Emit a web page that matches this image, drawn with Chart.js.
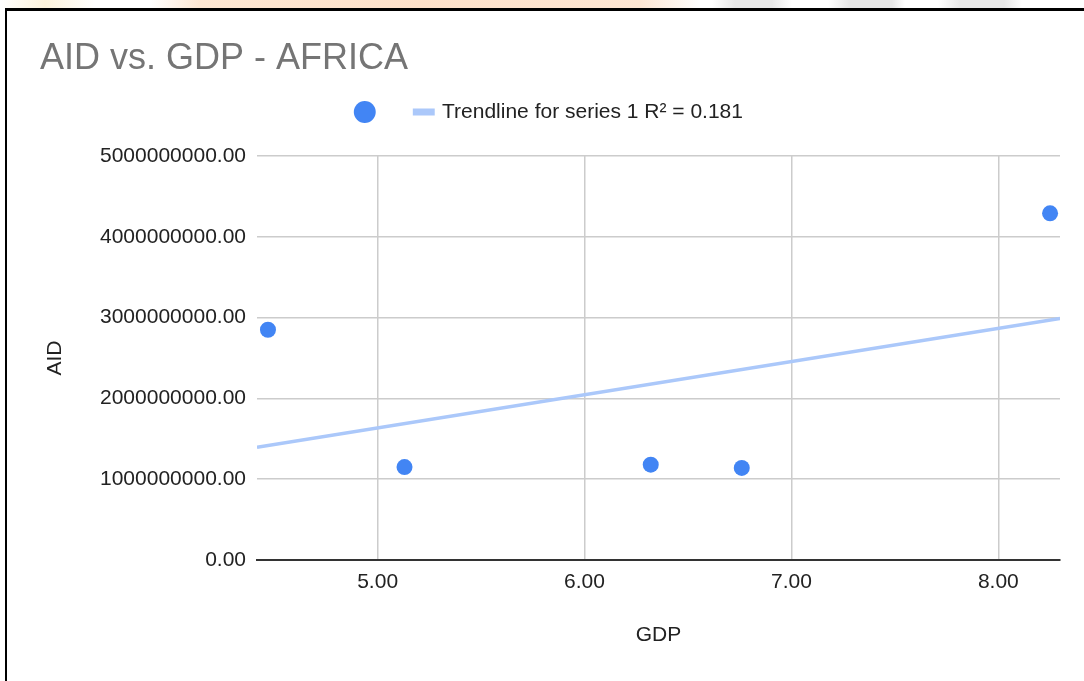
<!DOCTYPE html>
<html>
<head>
<meta charset="utf-8">
<title>AID vs. GDP - AFRICA</title>
<script src="https://cdn.jsdelivr.net/npm/chart.js@4.4.1/dist/chart.umd.min.js"></script>
<style>
  html, body { margin: 0; padding: 0; width: 1084px; height: 681px; overflow: hidden; background: #fff; }
  /* soft page backdrop peeking out above the framed card */
  #backdrop {
    position: absolute; left: 0; top: 0; width: 1084px; height: 8px;
    background: linear-gradient(to right,
      #fff 0px, #fdf3dc 45px, #fff 95px, #fff 150px, #fde7d3 200px, #fde1ca 420px,
      #fde6d3 640px, #fff 700px, #fff 712px, #e7e7e7 735px, #e7e7e7 772px, #fff 792px,
      #fff 828px, #e6e6e6 850px, #e6e6e6 892px, #fff 905px, #fff 938px, #e8e8e8 960px,
      #e8e8e8 1004px, #fff 1022px, #fff 1084px);
  }
  #frame {
    position: absolute; left: 5px; top: 8px; width: 1200px; height: 800px;
    border-left: 2.5px solid #000; border-top: 3px solid #000; box-sizing: border-box;
  }
  #chart { position: absolute; left: 0; top: 0; }
</style>
</head>
<body>
<div id="backdrop"></div>
<div id="frame"></div>
<canvas id="chart" width="1084" height="681"></canvas>
<script>
// Observations: GDP growth (x) against aid received (y)
const gdp = [4.47, 5.13, 6.32, 6.76, 8.25];
const aid = [2850000000, 1150000000, 1180000000, 1140000000, 4290000000];

// Axis ranges and tick values
const gdpRange = [4.417, 8.298];
const gdpTicks = [5, 6, 7, 8];
const aidRange = [0, 5000000000];
const aidStep = 1000000000;

const seriesLabel = '';
const trendLabel = 'Trendline for series 1 R\u00B2 = 0.181';

// Ordinary least-squares fit of aid on GDP
const n = gdp.length;
const meanX = gdp.reduce((a, b) => a + b, 0) / n;
const meanY = aid.reduce((a, b) => a + b, 0) / n;
let sxy = 0, sxx = 0;
for (let i = 0; i < n; i++) {
  sxy += (gdp[i] - meanX) * (aid[i] - meanY);
  sxx += (gdp[i] - meanX) * (gdp[i] - meanX);
}
const slope = sxy / sxx;
const intercept = meanY - slope * meanX;
const trendPoints = gdpRange.map(x => ({ x: x, y: intercept + slope * x }));

const BLUE = '#4285f4';
const TREND = '#abc8fa';
const TEXT = '#222222';
const GRID = '#cccccc';
const FONT_SIZE = 21;

// Empty layout box that leaves breathing room between the legend and the plot
const LEGEND_GAP = 23.5;
const legendGap = {
  id: 'legendGap',
  beforeInit(chart) {
    Chart.layouts.addBox(chart, {
      position: 'top',
      weight: 500,
      fullSize: true,
      options: {},
      left: 0, top: 0, right: 0, bottom: 0, width: 0, height: 0,
      isHorizontal() { return true; },
      update(maxWidth) { this.width = maxWidth; this.height = LEGEND_GAP; },
      draw() {}
    });
  }
};

Chart.defaults.font.family = '"Liberation Sans", Arial, sans-serif';
Chart.defaults.font.size = FONT_SIZE;
Chart.defaults.color = TEXT;

new Chart(document.getElementById('chart'), {
  type: 'scatter',
  plugins: [legendGap],
  data: {
    datasets: [
      {
        label: seriesLabel,
        data: gdp.map((x, i) => ({ x: x, y: aid[i] })),
        backgroundColor: BLUE,
        borderWidth: 0,
        pointRadius: 8,
        pointHoverRadius: 8,
        pointStyle: 'circle',
        order: 0
      },
      {
        type: 'line',
        label: trendLabel,
        data: trendPoints,
        borderColor: TREND,
        backgroundColor: TREND,
        borderWidth: 3.5,
        pointRadius: 0,
        pointHoverRadius: 0,
        pointStyle: 'line',
        fill: false,
        order: 1
      }
    ]
  },
  options: {
    responsive: false,
    animation: false,
    devicePixelRatio: 1,
    events: [],
    layout: { padding: { left: 40, right: 24, top: 0, bottom: 0 } },
    plugins: {
      tooltip: { enabled: false },
      title: {
        display: true,
        text: 'AID vs. GDP - AFRICA',
        align: 'start',
        color: '#757575',
        font: { size: 36, weight: 'normal', lineHeight: 1 },
        padding: { top: 41, bottom: -8.5 }
      },
      legend: {
        display: true,
        position: 'top',
        labels: {
          color: TEXT,
          font: { size: FONT_SIZE },
          usePointStyle: true,
          boxWidth: 15.5,
          boxHeight: 15.5,
          padding: 33,
          generateLabels(chart) {
            const items = Chart.defaults.plugins.legend.labels.generateLabels(chart);
            items.forEach(item => {
              if (item.datasetIndex === 1) item.lineWidth = 7;
            });
            return items;
          }
        }
      }
    },
    scales: {
      x: {
        type: 'linear',
        min: gdpRange[0],
        max: gdpRange[1],
        afterBuildTicks(scale) {
          scale.ticks = gdpTicks.map(v => ({ value: v }));
        },
        afterFit(scale) { scale.height = 121; },
        ticks: {
          callback: v => Number(v).toFixed(2),
          color: TEXT,
          padding: 10,
          maxRotation: 0,
          autoSkip: false
        },
        grid: { color: GRID, lineWidth: 1.5, drawTicks: false },
        border: { display: true, color: '#333333', width: 2 },
        title: {
          display: true,
          text: 'GDP',
          color: TEXT,
          font: { size: FONT_SIZE },
          padding: { top: 0, bottom: 33 }
        }
      },
      y: {
        type: 'linear',
        min: aidRange[0],
        max: aidRange[1],
        afterFit(scale) { scale.width = 217; },
        ticks: {
          stepSize: aidStep,
          callback: v => Number(v).toFixed(2),
          color: TEXT,
          padding: 11
        },
        grid: { color: GRID, lineWidth: 1.5, drawTicks: false },
        border: { display: false },
        title: {
          display: true,
          text: 'AID',
          color: TEXT,
          font: { size: FONT_SIZE },
          padding: { top: 3, bottom: 0 }
        }
      }
    }
  }
});
</script>
</body>
</html>
